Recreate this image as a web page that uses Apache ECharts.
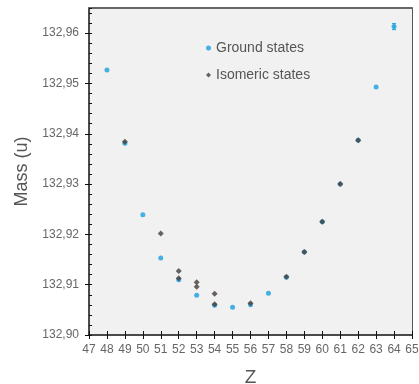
<!DOCTYPE html>
<html><head><meta charset="utf-8">
<script src="https://cdn.jsdelivr.net/npm/echarts@6/dist/echarts.min.js"></script>
<style>html,body{margin:0;padding:0;background:#fff}#c{width:419px;height:384px}</style>
</head><body><div id="c"></div>
<script>
var groundZ = [48,49,50,51,52,53,54,55,56,57,58,59,60,61,62,63,64];
var groundMass = [132.9527,132.9381,132.9239,132.9153,132.9110,132.9079,132.9059,132.9055,132.9060,132.9083,132.9115,132.9165,132.9225,132.9300,132.9387,132.9493,132.9613];
var groundErr = [0,0,0,0,0,0,0,0,0,0,0,0,0,0,0,0,0.0006];
var isoZ = [49,51,52,52,53,53,54,54,56,58,59,60,61,62];
var isoMass = [132.9384,132.9202,132.9127,132.9113,132.9105,132.9096,132.9082,132.9061,132.9063,132.9116,132.9165,132.9225,132.9300,132.9387];
var yMajor = [132.90,132.91,132.92,132.93,132.94,132.95,132.96];
var seriesNames = ['Ground states','Isomeric states'];
var xName = 'Z', yName = 'Mass (u)';

var blue = '#1a9fe0', dark = '#463c38';
var ground = groundZ.map(function(z,i){return [z, groundMass[i]];});
var iso = isoZ.map(function(z,i){return [z, isoMass[i]];});
var errData = [];
groundZ.forEach(function(z,i){ if(groundErr[i]>0) errData.push([z, groundMass[i]-groundErr[i], groundMass[i]+groundErr[i]]); });

var chart = echarts.init(document.getElementById('c'));
var lblFont = {color:'#666', fontSize:12, fontFamily:'Liberation Sans'};
chart.setOption({
  animation:false,
  grid:{left:89,right:7,top:8,bottom:49,show:true,backgroundColor:'#f1f1f1',borderWidth:0,outerBoundsMode:'none',containLabel:false},
  legend:{
    orient:'vertical', left:201, top:36, itemWidth:5, itemHeight:5, itemGap:13,
    textStyle:{color:'#555', fontSize:14, fontFamily:'Liberation Sans'},
    data:[{name:seriesNames[0],icon:'circle'},{name:seriesNames[1],icon:'diamond'}]
  },
  xAxis:[
    {type:'value',min:47,max:65,interval:1,position:'bottom',
     name:xName,nameLocation:'middle',nameGap:33,nameTextStyle:{color:'#555',fontSize:19,fontFamily:'Liberation Sans'},
     axisLine:{lineStyle:{color:'#111',width:1.5}},axisTick:{inside:false,length:4,lineStyle:{color:'#111'}},
     axisLabel:Object.assign({margin:9},lblFont),splitLine:{show:false}},
    {type:'value',min:47,max:65,interval:1,position:'bottom',
     axisLine:{show:false},axisTick:{inside:true,length:4,lineStyle:{color:'#111'}},axisLabel:{show:false},splitLine:{show:false}},
    {type:'value',min:47,max:65,position:'top',
     axisLine:{lineStyle:{color:'#666',width:2}},axisTick:{show:false},axisLabel:{show:false},splitLine:{show:false}}
  ],
  yAxis:[
    {type:'value',min:132.90,max:132.965,interval:0.01,position:'left',
     name:yName,nameLocation:'middle',nameGap:57,nameTextStyle:{color:'#555',fontSize:18,fontFamily:'Liberation Sans'},
     axisLine:{lineStyle:{color:'#111',width:1.5}},
     axisTick:{inside:false,length:4,lineStyle:{color:'#111'},customValues:yMajor},
     axisLabel:Object.assign({margin:10,customValues:yMajor,formatter:function(v){return v.toFixed(2).replace('.',',');}},lblFont),
     splitLine:{show:false}},
    {type:'value',min:132.90,max:132.965,interval:0.002,position:'left',
     axisLine:{show:false},axisTick:{inside:true,length:3,lineStyle:{color:'#111'}},axisLabel:{show:false},splitLine:{show:false}},
    {type:'value',min:132.90,max:132.965,position:'right',
     axisLine:{lineStyle:{color:'#555',width:1}},axisTick:{show:false},axisLabel:{show:false},splitLine:{show:false}}
  ],
  series:[
    {type:'custom',name:'err',silent:true,
     renderItem:function(params,api){
       var x=api.coord([api.value(0),api.value(1)]), y=api.coord([api.value(0),api.value(2)]);
       var s={stroke:blue,lineWidth:1};
       return {type:'group',children:[
         {type:'line',shape:{x1:x[0],y1:x[1],x2:y[0],y2:y[1]},style:s},
         {type:'line',shape:{x1:x[0]-2,y1:x[1],x2:x[0]+2,y2:x[1]},style:s},
         {type:'line',shape:{x1:y[0]-2,y1:y[1],x2:y[0]+2,y2:y[1]},style:s}]};
     },
     encode:{x:0,y:[1,2]},data:errData,z:1},
    {type:'scatter',name:seriesNames[0],data:ground,symbol:'circle',symbolSize:5,itemStyle:{color:blue},z:2},
    {type:'scatter',name:seriesNames[1],data:iso,symbol:'diamond',symbolSize:6,itemStyle:{color:dark},z:3}
  ]
});
</script></body></html>
